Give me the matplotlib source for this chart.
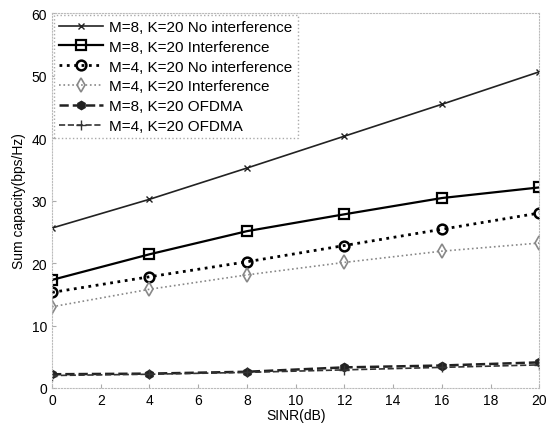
import matplotlib.pyplot as plt

plt.rcParams['font.family'] = ['Liberation Sans', 'DejaVu Sans']

# data
sinr = [0, 4, 8, 12, 16, 20]
m8_no_intf = [25.6, 30.2, 35.2, 40.3, 45.4, 50.6]
m8_intf = [17.3, 21.4, 25.1, 27.8, 30.4, 32.1]
m4_no_intf = [15.3, 17.8, 20.2, 22.8, 25.4, 28.0]
m4_intf = [13.0, 15.8, 18.1, 20.1, 21.9, 23.2]
m8_ofdma = [2.2, 2.3, 2.6, 3.3, 3.6, 4.1]
m4_ofdma = [2.0, 2.2, 2.5, 2.9, 3.3, 3.7]

labels = ['M=8, K=20 No interference', 'M=8, K=20 Interference',
          'M=4, K=20 No interference', 'M=4, K=20 Interference',
          'M=8, K=20 OFDMA', 'M=4, K=20 OFDMA']


def main():
    fig = plt.figure(figsize=(5.48, 4.27), dpi=100)
    ax = fig.add_axes([0.095, 0.089, 0.889, 0.878])

    ax.plot(sinr, m8_no_intf, '-', color='#222222', lw=1.2, marker='x', ms=4, label=labels[0])
    ax.plot(sinr, m8_intf, '-', color='black', lw=1.6, marker='s', ms=7, mfc='none', mew=1.6, label=labels[1])
    ax.plot(sinr, m4_no_intf, ':', color='black', lw=2.0, marker='o', ms=7, mfc='none', mew=1.8, label=labels[2])
    ax.plot(sinr, m4_intf, ':', color='#888888', lw=1.2, marker='d', ms=7, mfc='none', mew=1.2, label=labels[3])
    ax.plot(sinr, m8_ofdma, '--', color='#222222', lw=1.8, marker='h', ms=6, label=labels[4])
    ax.plot(sinr, m4_ofdma, '--', color='#333333', lw=1.2, marker='+', ms=7, label=labels[5])

    ax.set_xlim(0, 20)
    ax.set_ylim(0, 60)
    ax.set_xticks(range(0, 21, 2))
    ax.set_yticks(range(0, 61, 10))
    ax.tick_params(labelsize=10, direction='in', length=3, color='#aaaaaa')
    for s in ax.spines.values():
        s.set_color('#bbbbbb')
        s.set_linestyle(':')
        s.set_linewidth(0.8)

    ax.set_xlabel('SINR(dB)', fontsize=10, labelpad=1)
    ax.set_ylabel('Sum capacity(bps/Hz)', fontsize=10, labelpad=4)

    leg = ax.legend(loc='upper left', fontsize=11, handlelength=2.9,
                    borderaxespad=0.1, labelspacing=0.38, fancybox=False,
                    handletextpad=0.4, borderpad=0.35,
                    framealpha=1, edgecolor='#aaaaaa')
    leg.get_frame().set_linestyle(':')

    fig.savefig('out.png', dpi=100)


if __name__ == '__main__':
    main()
